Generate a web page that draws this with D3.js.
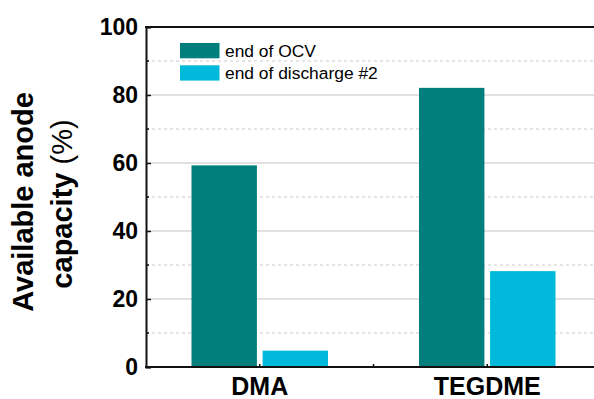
<!DOCTYPE html>
<html>
<head>
<meta charset="utf-8">
<script src="https://cdn.jsdelivr.net/npm/d3@7"></script>
<style>
  html, body { margin: 0; padding: 0; background: #fff; }
  svg { display: block; font-family: "Liberation Sans", Arial, Helvetica, sans-serif; }
</style>
</head>
<body>
<svg id="chart" width="594" height="399"></svg>
<script>
// Available anode capacity per electrolyte
const categories = ["DMA", "TEGDME"];
const seriesNames = ["end of OCV", "end of discharge #2"];
const endOfOCV = [59.3, 82.1];
const endOfDischarge2 = [4.8, 28.2];
const yTicks = [0, 20, 40, 60, 80, 100];
const yMinorTicks = [10, 30, 50, 70, 90];
const colors = ["#007f7d", "#00b9db"];

const svg = d3.select("#chart");
const plotLeft = 146, plotRight = 601, plotTop = 27, plotBottom = 367;

const x = d3.scaleBand().domain(categories).range([plotLeft, plotRight]).padding(0);
const xInner = d3.scaleBand().domain(seriesNames)
  .range([45.5, x.bandwidth() - 45.5]).paddingInner(0.08);
const y = d3.scaleLinear().domain([0, 100]).range([plotBottom, plotTop]);

// grid: solid at major ticks, dashed halfway between
svg.append("g").selectAll("line").data(yTicks.filter(d => d > 0 && d < 100)).join("line")
  .attr("x1", plotLeft).attr("x2", 594)
  .attr("y1", d => y(d)).attr("y2", d => y(d))
  .attr("stroke", "#c4c4c4").attr("stroke-width", 1.2);
svg.append("g").selectAll("line").data(yMinorTicks).join("line")
  .attr("x1", plotLeft).attr("x2", 594)
  .attr("y1", d => y(d)).attr("y2", d => y(d))
  .attr("stroke", "#cccccc").attr("stroke-width", 1.2)
  .attr("stroke-dasharray", "3,3");

// bars
const rows = categories.map((c, i) => ({ cat: c, vals: [endOfOCV[i], endOfDischarge2[i]] }));
const groups = svg.append("g").selectAll("g").data(rows).join("g")
  .attr("transform", d => `translate(${x(d.cat)},0)`);
groups.selectAll("rect").data(d => d.vals.map((v, k) => ({ v, k }))).join("rect")
  .attr("x", d => xInner(seriesNames[d.k]))
  .attr("width", xInner.bandwidth())
  .attr("y", d => y(d.v))
  .attr("height", d => y(0) - y(d.v))
  .attr("fill", d => colors[d.k]);

// y axis with inward ticks
const yAxis = d3.axisLeft(y).tickValues(yTicks).tickSize(-5).tickPadding(8);
const gy = svg.append("g").attr("transform", `translate(${plotLeft},0)`).call(yAxis);
gy.select(".domain").attr("stroke", "#111").attr("stroke-width", 2);
gy.selectAll(".tick line").attr("stroke", "#111").attr("stroke-width", 1.5);
gy.selectAll(".tick text").attr("font-size", 23).attr("font-weight", "bold")
  .attr("fill", "#000").attr("font-family", "Liberation Sans, Arial, sans-serif")
  .attr("x", -8);
svg.append("g").selectAll("line").data(yMinorTicks).join("line")
  .attr("x1", plotLeft).attr("x2", plotLeft + 3)
  .attr("y1", d => y(d)).attr("y2", d => y(d))
  .attr("stroke", "#111").attr("stroke-width", 1.5);

// x axis
const xAxis = d3.axisBottom(x).tickSize(-3).tickPadding(10);
const gx = svg.append("g").attr("transform", `translate(0,${plotBottom})`).call(xAxis);
gx.select(".domain").remove();
gx.selectAll(".tick line").attr("stroke", "#111").attr("stroke-width", 1.5);
gx.selectAll(".tick text").attr("font-size", 25).attr("font-weight", "bold")
  .attr("fill", "#000").attr("font-family", "Liberation Sans, Arial, sans-serif")
  .attr("dy", "0.71em");
svg.append("line").attr("x1", plotLeft - 1).attr("x2", 594)
  .attr("y1", plotBottom).attr("y2", plotBottom)
  .attr("stroke", "#111").attr("stroke-width", 2);
svg.append("line").attr("x1", x(categories[1])).attr("x2", x(categories[1]))
  .attr("y1", plotBottom - 3).attr("y2", plotBottom)
  .attr("stroke", "#111").attr("stroke-width", 1.5);

// top frame
svg.append("line").attr("x1", plotLeft - 1).attr("x2", 594)
  .attr("y1", plotTop).attr("y2", plotTop)
  .attr("stroke", "#111").attr("stroke-width", 2);

// y title
const title = svg.append("text")
  .attr("transform", `translate(23,202) rotate(-90)`)
  .attr("text-anchor", "middle")
  .attr("font-size", 29).attr("font-weight", "bold").attr("fill", "#000");
title.append("tspan").attr("x", 0).attr("dy", "0.36em").text("Available anode");
const line2 = svg.append("text")
  .attr("transform", `translate(62,204) rotate(-90)`)
  .attr("text-anchor", "middle")
  .attr("font-size", 29).attr("fill", "#000");
line2.append("tspan").attr("dy", "0.36em").attr("font-weight", "bold").text("capacity ");
line2.append("tspan").attr("font-weight", "normal").text("(%)");

// legend
const legend = svg.append("g").attr("transform", "translate(180,43)");
seriesNames.forEach((s, i) => {
  const g = legend.append("g").attr("transform", `translate(0,${i * 22.3})`);
  g.append("rect").attr("width", 39.5).attr("height", 15.3).attr("fill", colors[i]);
  g.append("text").attr("x", 45).attr("y", 13.7)
    .attr("font-size", 17.4).attr("fill", "#000").text(s);
});
</script>
</body>
</html>
